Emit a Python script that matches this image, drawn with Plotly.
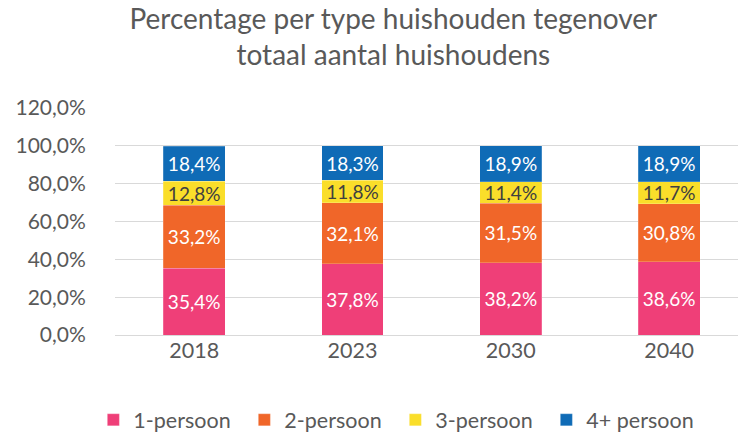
import plotly.graph_objects as go

years = ["2018", "2023", "2030", "2040"]
series_names = ["1-persoon", "2-persoon", "3-persoon", "4+ persoon"]
p1 = [35.4, 37.8, 38.2, 38.6]
p2 = [33.2, 32.1, 31.5, 30.8]
p3 = [12.8, 11.8, 11.4, 11.7]
p4 = [18.4, 18.3, 18.9, 18.9]
y_ticks = [0, 20, 40, 60, 80, 100, 120]

colors = ["#EF3F78", "#F06629", "#FADE2A", "#0F6BB6"]
text_colors = ["white", "white", "#404040", "white"]

FONT = "Lato"
fig = go.Figure()
for name, vals, c, tc in zip(series_names, [p1, p2, p3, p4], colors, text_colors):
    fig.add_trace(go.Bar(
        x=years, y=vals, name=name,
        marker=dict(color=c, line=dict(color="rgba(255,255,255,0.4)", width=0.5)),
        text=[f"{v:.1f}".replace(".", ",") + "%" for v in vals],
        textposition="inside", insidetextanchor="middle",
        textfont=dict(color=tc, size=19, family=FONT),
        constraintext="none",
    ))

fig.update_layout(
    barmode="stack", bargap=0.61,
    width=738, height=433,
    margin=dict(l=115, r=0, t=108, b=98, autoexpand=False),
    paper_bgcolor="white", plot_bgcolor="white",
    separators=",.",
    font=dict(family=FONT, color="#595959"),
    title=dict(text="Percentage per type huishouden tegenover<br>totaal aantal huishoudens",
               x=0.533, xanchor="center", y=0.933, yanchor="top",
               font=dict(size=28, color="#595959", family=FONT)),
    legend=dict(orientation="h", x=0.45, xanchor="center", y=-0.374, yanchor="middle",
                font=dict(size=21.5, color="#595959", family=FONT), traceorder="normal",
                itemwidth=30, entrywidth=106, entrywidthmode="pixels"),
    showlegend=True,
)
fig.update_xaxes(range=[-0.5, 3.435], showline=False, ticks="", automargin=False,
                 tickfont=dict(size=21.5, color="#595959", family=FONT))
fig.update_yaxes(range=[0, 120], tickvals=y_ticks, ticktext=[f"{v},0%" for v in y_ticks],
                 showgrid=True, gridcolor="#D9D9D9", gridwidth=1.3, zeroline=True,
                 zerolinecolor="#D9D9D9", zerolinewidth=1.3, automargin=False,
                 ticks="outside", ticklen=24, tickcolor="rgba(0,0,0,0)",
                 tickfont=dict(size=21, color="#595959", family=FONT))

fig.write_html("out.html", config={"displayModeBar": False},
               post_script="document.body.style.margin='0';document.body.style.overflow='hidden';")
